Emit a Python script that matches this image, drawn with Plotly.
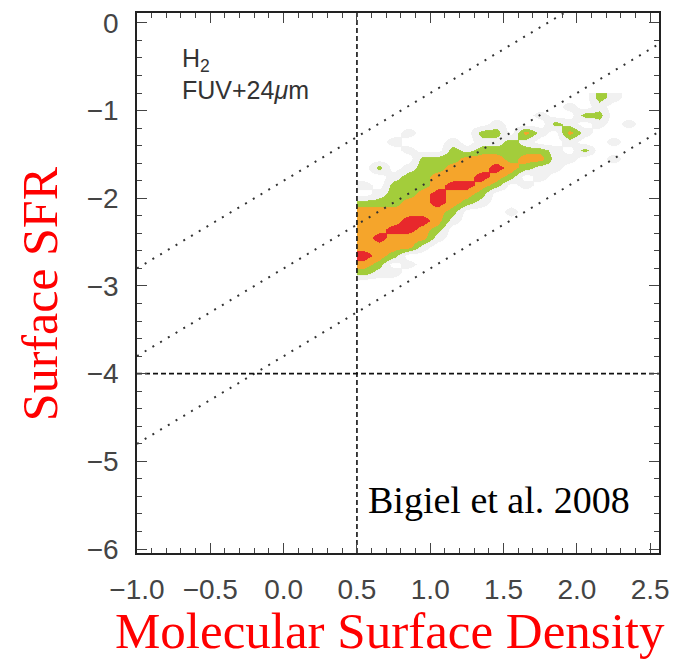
import plotly.graph_objects as go

# ---------------- data ----------------
# bin edges of the (log Sigma_H2, log Sigma_SFR) density map
X_EDGES = [0.5, 0.6, 0.7, 0.8, 0.9, 1.0, 1.1, 1.2, 1.3, 1.4, 1.5,
           1.6, 1.7, 1.8, 1.9, 2.0, 2.1, 2.2, 2.3, 2.4, 2.5]
Y_EDGES = [-3.0, -2.9, -2.8, -2.7, -2.6, -2.5, -2.4, -2.3, -2.2, -2.1, -2.0,
           -1.9, -1.8, -1.7, -1.6, -1.5, -1.4, -1.3, -1.2, -1.1, -1.0, -0.9, -0.8]

# density level per bin (0 empty, 1 sparse, 2 low, 3 mid, 4 high), rows listed top (y=-0.85) to bottom (y=-2.95)
DENSITY_ROWS_TOP_DOWN = [
    "00000000000000002100",
    "00000000000000101000",
    "00000000000010022000",
    "00000000010002101010",
    "00010000220310310000",
    "00100010112100100100",
    "00010021222221020000",
    "00002223332331100100",
    "02012233343211000000",
    "00122333432010000000",
    "10222344320100000000",
    "01223433200000000000",
    "22233432100000000000",
    "33333320001000000000",
    "33344310000000000000",
    "33443200000000000000",
    "34333100000000000000",
    "33331000000000000000",
    "43200000000000000000",
    "32010000000000000000",
    "21100000000000000000",
    "00000000000000000000",
]

DEPLETION_OFFSETS = [-1.8, -2.8, -3.8]   # log SFR = log Sigma + offset
THRESHOLD_X = 0.5
THRESHOLD_Y = -4.0

X_RANGE = [-1.0, 2.56]
Y_RANGE = [-6.045, 0.113]

LEVEL_COLORS = ["#ffffff", "#f1f1f1", "#a3cd3b", "#f5a52b", "#e8282c"]

# ---------------- figure ----------------
z = [[int(ch) for ch in row] for row in reversed(DENSITY_ROWS_TOP_DOWN)]

cs = [
    [0.0, LEVEL_COLORS[0]], [0.125, LEVEL_COLORS[0]],
    [0.125, LEVEL_COLORS[1]], [0.375, LEVEL_COLORS[1]],
    [0.375, LEVEL_COLORS[2]], [0.625, LEVEL_COLORS[2]],
    [0.625, LEVEL_COLORS[3]], [0.875, LEVEL_COLORS[3]],
    [0.875, LEVEL_COLORS[4]], [1.0, LEVEL_COLORS[4]],
]

fig = go.Figure()
fig.add_trace(go.Heatmap(
    x=X_EDGES, y=Y_EDGES, z=z, zmin=0, zmax=4, zsmooth="best",
    colorscale=cs, showscale=False, hoverinfo="skip",
))

for c in DEPLETION_OFFSETS:
    fig.add_trace(go.Scatter(
        x=X_RANGE, y=[X_RANGE[0] + c, X_RANGE[1] + c], mode="lines",
        line=dict(color="#333333", width=2, dash="2px,7px"),
        hoverinfo="skip", showlegend=False,
    ))

fig.add_trace(go.Scatter(
    x=[THRESHOLD_X, THRESHOLD_X], y=Y_RANGE, mode="lines",
    line=dict(color="#111111", width=1.6, dash="5px,3px"),
    hoverinfo="skip", showlegend=False,
))
fig.add_trace(go.Scatter(
    x=X_RANGE, y=[THRESHOLD_Y, THRESHOLD_Y], mode="lines",
    line=dict(color="#111111", width=1.6, dash="5px,3px"),
    hoverinfo="skip", showlegend=False,
))

tickfont = dict(family="Liberation Sans, Arial, sans-serif", size=28, color="#444444")
common = dict(
    showgrid=False, zeroline=False, showline=True, linecolor="#222222", linewidth=1.5,
    mirror="ticks", ticks="inside", ticklen=10, tickwidth=1.2, tickcolor="#444444",
    tickfont=tickfont, ticklabelstandoff=11,
)

fig.update_layout(
    width=691, height=669,
    margin=dict(l=137, r=32, t=8, b=116),
    paper_bgcolor="white", plot_bgcolor="white",
    showlegend=False,
    xaxis=dict(range=X_RANGE, tick0=-1.0, dtick=0.5, tickformat=".1f",
               minor=dict(dtick=0.1, ticks="inside", ticklen=5, tickwidth=1, tickcolor="#444444"),
               **common),
    yaxis=dict(range=Y_RANGE, tick0=0, dtick=1,
               minor=dict(dtick=0.2, ticks="inside", ticklen=5, tickwidth=1, tickcolor="#444444"),
               **common),
    annotations=[
        dict(text="H<sub>2</sub>", x=-0.708, y=-0.42, xref="x", yref="y",
             xanchor="left", yanchor="middle", showarrow=False,
             font=dict(family="Liberation Sans, Arial, sans-serif", size=25, color="#333333")),
        dict(text="FUV+24<i>μ</i>m", x=-0.708, y=-0.76, xref="x", yref="y",
             xanchor="left", yanchor="middle", showarrow=False,
             font=dict(family="Liberation Sans, Arial, sans-serif", size=25, color="#333333")),
        dict(text="Bigiel et al. 2008", x=1.471, y=-5.446, xref="x", yref="y",
             xanchor="center", yanchor="middle", showarrow=False,
             font=dict(family="Liberation Serif, serif", size=38, color="#000000")),
        dict(text="Molecular Surface Density", x=0.485, y=-0.145, xref="paper", yref="paper",
             xanchor="center", yanchor="middle", showarrow=False,
             font=dict(family="Liberation Serif, serif", size=51, color="#ff0000")),
        dict(text="Surface SFR", x=-0.186, y=0.481, xref="paper", yref="paper",
             xanchor="center", yanchor="middle", showarrow=False, textangle=-90,
             font=dict(family="Liberation Serif, serif", size=50, color="#ff0000")),
    ],
)

fig.write_html("out.html")
